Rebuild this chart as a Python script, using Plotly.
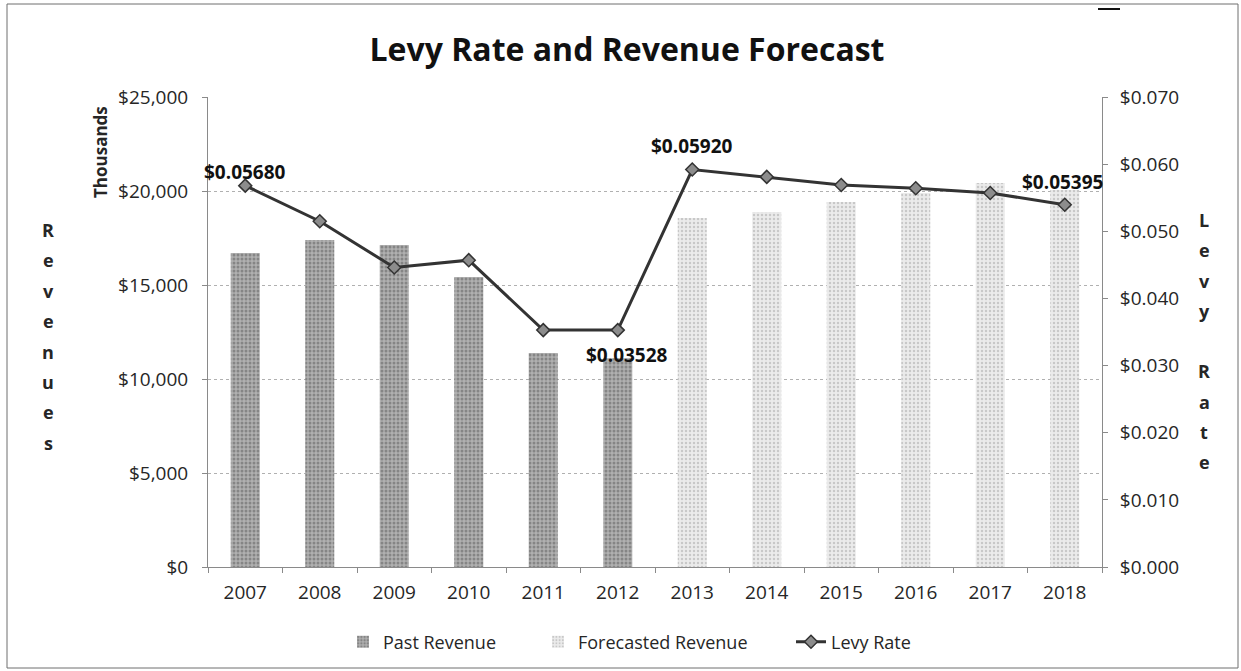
import plotly.graph_objects as go

years = ["2007", "2008", "2009", "2010", "2011", "2012",
         "2013", "2014", "2015", "2016", "2017", "2018"]
past_revenue = [16700, 17390, 17130, 15425, 11380, 11100,
                None, None, None, None, None, None]
forecast_revenue = [None, None, None, None, None, None,
                    18560, 18880, 19415, 19890, 20425, 20050]
levy_rate = [0.05680, 0.0515, 0.0446, 0.0457, 0.03528, 0.03528,
             0.05920, 0.0581, 0.0569, 0.0564, 0.0557, 0.05395]
# data labels shown on the levy line: (year, text, x shift px, y shift px)
levy_labels = [("2007", "$0.05680", 0, 14),
               ("2012", "$0.03528", 9, -25),
               ("2013", "$0.05920", 0, 24),
               ("2018", "$0.05395", -2, 23)]

W, H = 1241, 671
L, R, T, B = 208, 139, 97, 104
pw, ph = W - L - R, H - T - B

def px(x):
    return (x - L) / pw

def py(y):
    return (H - B - y) / ph

FONT = "'Open Sans', Lato, sans-serif"
TXT = "#262626"

fig = go.Figure()
fig.add_trace(go.Bar(
    x=years, y=past_revenue, name="Past Revenue", width=0.39,
    marker=dict(color="#9a9a9a", line=dict(width=0),
                pattern=dict(shape=".", fgcolor="#5a5a5a", bgcolor="#b0b0b0",
                             size=4, solidity=0.45, fillmode="overlay")),
    yaxis="y", legend="legend2",
))
fig.add_trace(go.Bar(
    x=years, y=forecast_revenue, name="Forecasted Revenue", width=0.39,
    marker=dict(color="#dedede", line=dict(width=0),
                pattern=dict(shape=".", fgcolor="#a4a4a4", bgcolor="#ebebeb",
                             size=4, solidity=0.3, fillmode="overlay")),
    yaxis="y", legend="legend3",
))
fig.add_trace(go.Scatter(
    x=years, y=levy_rate, name="Levy Rate", yaxis="y2",
    mode="lines+markers",
    line=dict(color="#333333", width=3),
    marker=dict(symbol="diamond", size=10, color="#8c8c8c",
                line=dict(color="#333333", width=1.5)),
    legend="legend4",
))

leg_common = dict(orientation="h", yanchor="middle", xanchor="left",
                  xref="container", yref="container", y=1 - 642 / H,
                  font=dict(family=FONT, size=18, color=TXT),
                  bgcolor="rgba(0,0,0,0)")

fig.update_layout(
    width=W, height=H,
    margin=dict(l=L, r=R, t=T, b=B),
    paper_bgcolor="white", plot_bgcolor="white",
    barmode="overlay",
    font=dict(family=FONT, size=19, color=TXT),
    title=dict(text="<b>Levy Rate and Revenue Forecast</b>",
               x=627 / W, xref="container", xanchor="center",
               y=1 - 50 / H, yref="container", yanchor="middle",
               font=dict(family=FONT, size=32, color="#111111")),
    xaxis=dict(
        type="category", range=[-0.5, 11.5], showgrid=False, showline=True,
        linecolor="#8a8a8a", linewidth=1,
        ticks="outside", ticklen=5, tickcolor="#8a8a8a", tickson="boundaries",
        ticklabelstandoff=8,
        tickfont=dict(family=FONT, size=19, color=TXT),
    ),
    yaxis=dict(
        range=[0, 25000], dtick=5000, tickformat="$,.0f",
        showgrid=True, gridcolor="#b0b0b0", griddash="dot", gridwidth=1,
        showline=True, linecolor="#8a8a8a", ticks="outside", ticklen=5,
        tickcolor="#8a8a8a", zeroline=False, ticklabelstandoff=10,
        tickfont=dict(family=FONT, size=19, color=TXT),
    ),
    yaxis2=dict(
        range=[0, 0.07], dtick=0.01, tickformat="$.3f",
        overlaying="y", side="right", showgrid=False,
        showline=True, linecolor="#8a8a8a", ticks="outside", ticklen=5,
        tickcolor="#8a8a8a", zeroline=False, ticklabelstandoff=8,
        tickfont=dict(family=FONT, size=19, color=TXT),
    ),
    showlegend=True,
    legend=dict(leg_common, x=0.0, visible=False),
    legend2=dict(leg_common, x=343 / W),
    legend3=dict(leg_common, x=538 / W),
    legend4=dict(leg_common, x=791 / W),
)

annotations = []
for yr, txt, dx, dy in levy_labels:
    i = years.index(yr)
    annotations.append(dict(
        x=i, y=levy_rate[i], xref="x", yref="y2",
        xanchor="center", yanchor="middle",
        text="<b>%s</b>" % txt, showarrow=False, xshift=dx, yshift=dy,
        font=dict(family=FONT, size=19, color="#111111")))

annotations.append(dict(text="<b>Thousands</b>", x=px(100), y=py(152),
                        xref="paper", yref="paper", textangle=-90, showarrow=False,
                        xanchor="center", yanchor="middle",
                        font=dict(family=FONT, size=17, color=TXT)))
for i, ch in enumerate("Revenues"):
    annotations.append(dict(text="<b>%s</b>" % ch, x=px(48), y=py(230 + i * 30.4),
                            xref="paper", yref="paper", showarrow=False,
                            xanchor="center", yanchor="middle",
                            font=dict(family=FONT, size=18, color=TXT)))
for i, ch in enumerate("Levy Rate"):
    if ch == " ":
        continue
    annotations.append(dict(text="<b>%s</b>" % ch, x=px(1204), y=py(220 + i * 30.25),
                            xref="paper", yref="paper", showarrow=False,
                            xanchor="center", yanchor="middle",
                            font=dict(family=FONT, size=18, color=TXT)))
fig.update_layout(annotations=annotations)

fig.add_shape(type="rect", xref="paper", yref="paper",
              x0=px(7), x1=px(1238), y0=py(668), y1=py(4),
              line=dict(color="#6e6e6e", width=1), layer="below")
fig.add_shape(type="line", xref="paper", yref="paper",
              x0=px(1098), x1=px(1120), y0=py(9), y1=py(9),
              line=dict(color="#111111", width=2))

fig.write_html("out.html")
